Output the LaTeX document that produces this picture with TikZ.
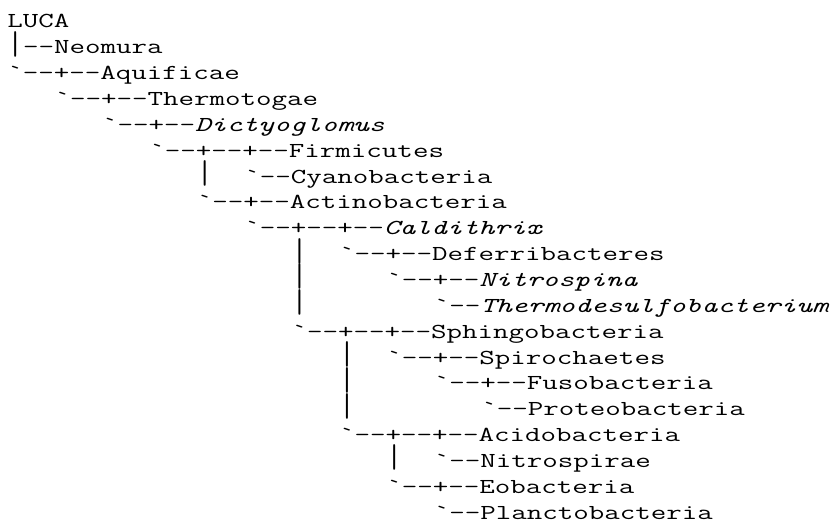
\documentclass[tikz,border=0pt]{standalone}
\usepackage{graphicx}

\newcommand{\treefont}{\fontsize{16pt}{16pt}\selectfont\ttfamily}
\newcommand{\stretched}[1]{\scalebox{1.411}[1]{#1}}
\newcommand{\gr}{\textasciigrave}
% a bar as tall as one row, so that bars of rows in a row join
\newcommand{\vbar}{\raisebox{-2.3pt}{\resizebox*{8.4pt}{19.2pt}{\raisebox{\depth}{|}}}}

\tikzset{
    taxon/.style={anchor=base west, inner sep=0pt, font=\treefont},
}

\begin{document}
\begin{tikzpicture}[x=11.85pt, y=-19.39pt]
\useasboundingbox (-5.25pt,21pt) rectangle (619.5pt,-371.25pt);

% one row per line, one column per character
\node[taxon] (luca) at (0,0) {\stretched{LUCA}};
\node[taxon] (neomura) at (0,1) {\stretched{\vbar--Neomura}};
\node[taxon] (aquificae) at (0,2) {\stretched{\gr--+--Aquificae}};
\node[taxon] (thermotogae) at (3,3) {\stretched{\gr--+--Thermotogae}};
\node[taxon] (dictyoglomus) at (6,4) {\stretched{\gr--+--\textit{Dictyoglomus}}};
\node[taxon] (firmicutes) at (9,5) {\stretched{\gr--+--+--Firmicutes}};
\node[taxon] (bar6) at (12,6) {\stretched{\vbar}};
\node[taxon] (cyanobacteria) at (15,6) {\stretched{\gr--Cyanobacteria}};
\node[taxon] (actinobacteria) at (12,7) {\stretched{\gr--+--Actinobacteria}};
\node[taxon] (caldithrix) at (15,8) {\stretched{\gr--+--+--\textit{Caldithrix}}};
\node[taxon] (bar9) at (18,9) {\stretched{\vbar}};
\node[taxon] (deferribacteres) at (21,9) {\stretched{\gr--+--Deferribacteres}};
\node[taxon] (bar10) at (18,10) {\stretched{\vbar}};
\node[taxon] (nitrospina) at (24,10) {\stretched{\gr--+--\textit{Nitrospina}}};
\node[taxon] (bar11) at (18,11) {\stretched{\vbar}};
\node[taxon] (thermodesulfo) at (27,11) {\stretched{\gr--\textit{Thermodesulfobacterium}}};
\node[taxon] (sphingobacteria) at (18,12) {\stretched{\gr--+--+--Sphingobacteria}};
\node[taxon] (bar13) at (21,13) {\stretched{\vbar}};
\node[taxon] (spirochaetes) at (24,13) {\stretched{\gr--+--Spirochaetes}};
\node[taxon] (bar14) at (21,14) {\stretched{\vbar}};
\node[taxon] (fusobacteria) at (27,14) {\stretched{\gr--+--Fusobacteria}};
\node[taxon] (bar15) at (21,15) {\stretched{\vbar}};
\node[taxon] (proteobacteria) at (30,15) {\stretched{\gr--Proteobacteria}};
\node[taxon] (acidobacteria) at (21,16) {\stretched{\gr--+--+--Acidobacteria}};
\node[taxon] (bar17) at (24,17) {\stretched{\vbar}};
\node[taxon] (nitrospirae) at (27,17) {\stretched{\gr--Nitrospirae}};
\node[taxon] (eobacteria) at (24,18) {\stretched{\gr--+--Eobacteria}};
\node[taxon] (planctobacteria) at (27,19) {\stretched{\gr--Planctobacteria}};

\end{tikzpicture}
\end{document}
